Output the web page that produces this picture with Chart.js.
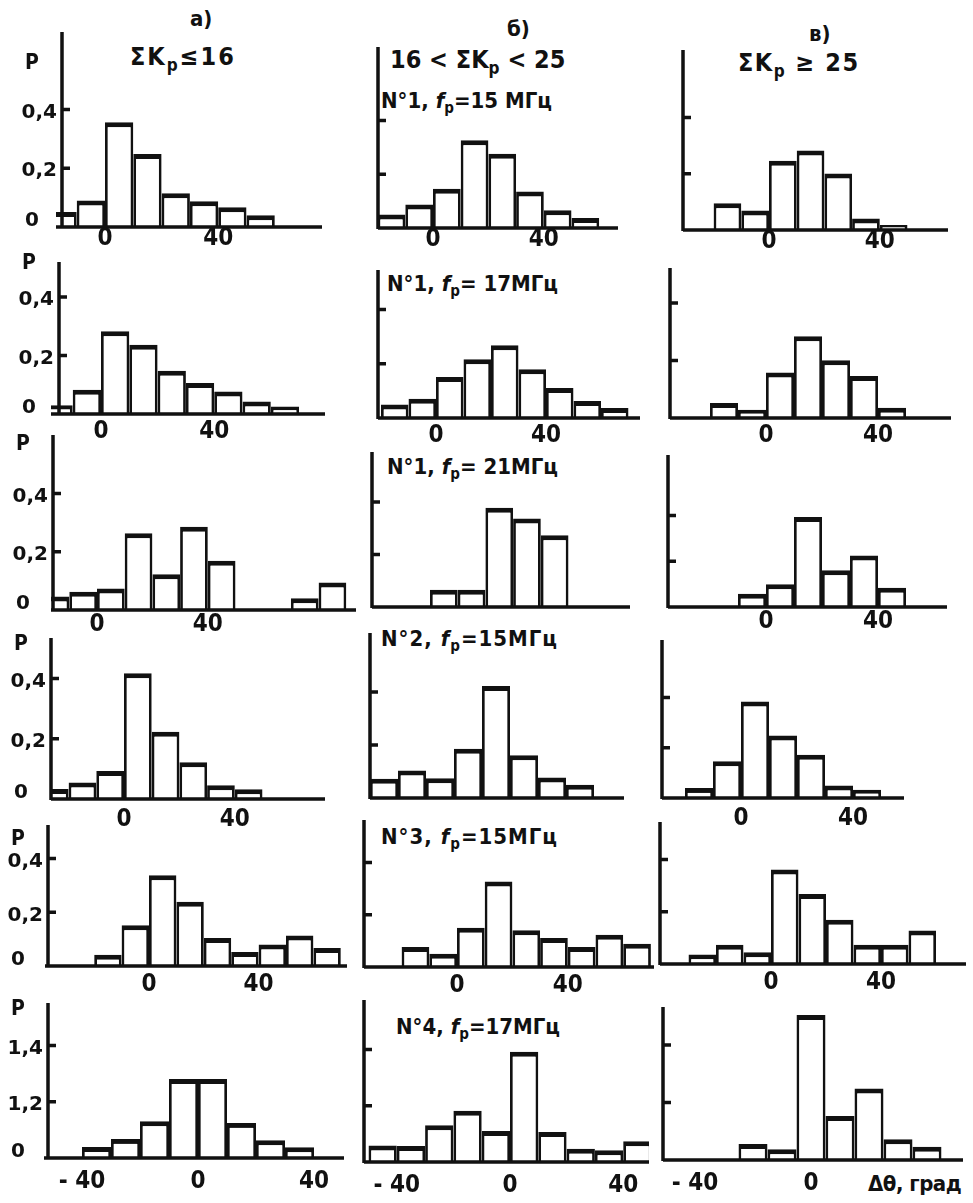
<!DOCTYPE html>
<html>
<head>
<meta charset="utf-8">
<script src="https://cdn.jsdelivr.net/npm/chart.js@4.4.0/dist/chart.umd.min.js"></script>
<style>
  body { margin: 0; background: #fff; width: 973px; height: 1203px; position: relative; overflow: hidden; }
  canvas { position: absolute; }
  .t { position: absolute; font-family: "Liberation Sans Narrow", "DejaVu Sans Condensed", sans-serif;
       font-weight: bold; font-size: 22px; color: #111; white-space: nowrap; line-height: 1; }
  .t sub { font-size: 15px; vertical-align: -5px; }
  .big { font-size: 25px; }
  .big sub { font-size: 17px; vertical-align: -6px; }
</style>
</head>
<body>
<div class="t" style="left:190px;top:8px;">а)</div>
<div class="t" style="left:507px;top:18px;">б)</div>
<div class="t" style="left:809px;top:23px;">в)</div>
<div class="t big" style="left:130px;top:44px;letter-spacing:2px;">ΣK<sub>p</sub>≤16</div>
<div class="t big" style="left:390px;top:47px;">16 &lt; ΣK<sub>p</sub> &lt; 25</div>
<div class="t big" style="left:738px;top:50px;letter-spacing:1.5px;">ΣK<sub>p</sub> ≥ 25</div>
<div class="t" style="left:381px;top:90px;">N°1, <i>f</i><sub>p</sub>=15 МГц</div>
<div class="t" style="left:387px;top:273px;">N°1, <i>f</i><sub>p</sub>= 17МГц</div>
<div class="t" style="left:387px;top:456px;">N°1, <i>f</i><sub>p</sub>= 21МГц</div>
<div class="t" style="left:381px;top:628px;letter-spacing:1px;">N°2, <i>f</i><sub>p</sub>=15МГц</div>
<div class="t" style="left:381px;top:826px;letter-spacing:1px;">N°3, <i>f</i><sub>p</sub>=15МГц</div>
<div class="t" style="left:396px;top:1016px;">N°4, <i>f</i><sub>p</sub>=17МГц</div>
<div class="t" style="left:868px;top:1173px;font-size:22px;letter-spacing:-0.5px;">Δθ, град</div>
<script>
// bin centres (degrees) and probabilities
const binsA1 = [-15, -5, 5, 15, 25, 35, 45, 55];
const probA1 = [0.051, 0.090, 0.356, 0.248, 0.115, 0.088, 0.067, 0.040];
const binsB1 = [-15, -5, 5, 15, 25, 35, 45, 55];
const probB1 = [0.050, 0.087, 0.146, 0.326, 0.276, 0.136, 0.066, 0.037];
const binsC1 = [-15, -5, 5, 15, 25, 35, 45];
const probC1 = [0.095, 0.069, 0.246, 0.282, 0.201, 0.041, 0.018];

const binsA2 = [-15, -5, 5, 15, 25, 35, 45, 55, 65];
const probA2 = [0.030, 0.083, 0.283, 0.237, 0.148, 0.106, 0.077, 0.043, 0.026];
const binsB2 = [-15, -5, 5, 15, 25, 35, 45, 55, 65];
const probB2 = [0.050, 0.071, 0.151, 0.217, 0.268, 0.180, 0.111, 0.063, 0.037];
const binsC2 = [-15, -5, 5, 15, 25, 35, 45];
const probC2 = [0.052, 0.029, 0.158, 0.284, 0.201, 0.146, 0.036];

const binsA3 = [-15, -5, 5, 15, 25, 35, 45, 75, 85];
const probA3 = [0.046, 0.063, 0.074, 0.263, 0.123, 0.286, 0.169, 0.040, 0.094];
const binsB3 = [5, 15, 25, 35, 45];
const probB3 = [0.066, 0.066, 0.378, 0.337, 0.273];
const binsC3 = [-5, 5, 15, 25, 35, 45];
const probC3 = [0.058, 0.099, 0.393, 0.160, 0.225, 0.084];

const binsA4 = [-25, -15, -5, 5, 15, 25, 35, 45];
const probA4 = [0.033, 0.055, 0.093, 0.417, 0.223, 0.122, 0.046, 0.032];
const binsB4 = [-15, -5, 5, 15, 25, 35, 45, 55];
const probB4 = [0.073, 0.104, 0.075, 0.186, 0.423, 0.161, 0.077, 0.050];
const binsC4 = [-15, -5, 5, 15, 25, 35, 45];
const probC4 = [0.040, 0.146, 0.384, 0.249, 0.172, 0.050, 0.033];

const binsA5 = [-15, -5, 5, 15, 25, 35, 45, 55, 65];
const probA5 = [0.042, 0.152, 0.338, 0.239, 0.104, 0.052, 0.080, 0.114, 0.067];
const binsB5 = [-15, -5, 5, 15, 25, 35, 45, 55, 65];
const probB5 = [0.077, 0.051, 0.150, 0.328, 0.141, 0.111, 0.077, 0.124, 0.089];
const binsC5 = [-25, -15, -5, 5, 15, 25, 35, 45, 55];
const probC5 = [0.036, 0.074, 0.045, 0.362, 0.268, 0.170, 0.074, 0.074, 0.128];

const binsA6 = [-35, -25, -15, -5, 5, 15, 25, 35];
const probA6 = [0.039, 0.068, 0.131, 0.281, 0.281, 0.125, 0.063, 0.038];
const binsB6 = [-45, -35, -25, -15, -5, 5, 15, 25, 35, 45];
const probB6 = [0.059, 0.057, 0.131, 0.182, 0.110, 0.392, 0.107, 0.047, 0.042, 0.074];
const binsC6 = [-20, -10, 0, 10, 20, 30, 40];
const probC6 = [0.056, 0.037, 0.504, 0.153, 0.249, 0.072, 0.046];

// y ticks and their labels (only the left column is labelled)
const yTicks = [0.2, 0.4];
const yTickText = [['0,2', '0,4'], ['0,2', '0,4'], ['0,2', '0,4'], ['0,2', '0,4'], ['0,2', '0,4'], ['1,2', '1,4']];
const xTicksStd = [0, 40];
const xTicksLow = [-40, 0, 40];

// page geometry of each little panel (pixels)
const panels = [
  { bins: binsA1, probs: probA1, row: 0, col: 0, left: 56,  right: 322, top: 32,   base: 227,  x0: 105, axisX: 62,  px10: 28.3, px02: 58.8, xt: xTicksStd },
  { bins: binsB1, probs: probB1, row: 0, col: 1, left: 378, right: 618, top: 47,   base: 228,  x0: 433, axisX: 378, px10: 27.7, px02: 53.8, xt: xTicksStd },
  { bins: binsC1, probs: probC1, row: 0, col: 2, left: 683, right: 948, top: 50,   base: 230,  x0: 769, axisX: 683, px10: 27.7, px02: 56.3, xt: xTicksStd },
  { bins: binsA2, probs: probA2, row: 1, col: 0, left: 51,  right: 325, top: 262,  base: 414,  x0: 101, axisX: 59,  px10: 28.3, px02: 58.5, xt: xTicksStd },
  { bins: binsB2, probs: probB2, row: 1, col: 1, left: 378, right: 640, top: 270,  base: 418,  x0: 436, axisX: 378, px10: 27.5, px02: 54.2, xt: xTicksStd },
  { bins: binsC2, probs: probC2, row: 1, col: 2, left: 670, right: 951, top: 268,  base: 418,  x0: 766, axisX: 670, px10: 28,   px02: 57.5, xt: xTicksStd },
  { bins: binsA3, probs: probA3, row: 2, col: 0, left: 51,  right: 356, top: 435,  base: 610,  x0: 97,  axisX: 53,  px10: 27.7, px02: 58.3, xt: xTicksStd },
  { bins: binsB3, probs: probB3, row: 2, col: 1, left: 372, right: 630, top: 452,  base: 607,  x0: 430, axisX: 372, px10: 27.7, px02: 52.5, xt: [] },
  { bins: binsC3, probs: probC3, row: 2, col: 2, left: 668, right: 947, top: 455,  base: 607,  x0: 766, axisX: 668, px10: 28,   px02: 45.8, xt: xTicksStd },
  { bins: binsA4, probs: probA4, row: 3, col: 0, left: 51,  right: 325, top: 638,  base: 799,  x0: 124, axisX: 51,  px10: 27.7, px02: 60.3, xt: xTicksStd },
  { bins: binsB4, probs: probB4, row: 3, col: 1, left: 370, right: 624, top: 633,  base: 798,  x0: 426, axisX: 370, px10: 28,   px02: 53,   xt: [] },
  { bins: binsC4, probs: probC4, row: 3, col: 2, left: 662, right: 904, top: 640,  base: 798,  x0: 741, axisX: 662, px10: 28,   px02: 50.3, xt: xTicksStd },
  { bins: binsA5, probs: probA5, row: 4, col: 0, left: 45,  right: 347, top: 825,  base: 966,  x0: 149, axisX: 48,  px10: 27.4, px02: 53.7, xt: xTicksStd },
  { bins: binsB5, probs: probB5, row: 4, col: 1, left: 364, right: 654, top: 820,  base: 967,  x0: 457, axisX: 364, px10: 27.7, px02: 52.2, xt: xTicksStd },
  { bins: binsC5, probs: probC5, row: 4, col: 2, left: 660, right: 966, top: 822,  base: 964,  x0: 771, axisX: 660, px10: 27.5, px02: 52.2, xt: xTicksStd },
  { bins: binsA6, probs: probA6, row: 5, col: 0, left: 44,  right: 344, top: 1003, base: 1158, x0: 198, axisX: 48,  px10: 29,   px02: 56.2, xt: xTicksLow },
  { bins: binsB6, probs: probB6, row: 5, col: 1, left: 364, right: 649, top: 1000, base: 1162, x0: 510, axisX: 364, px10: 28.3, px02: 56.2, xt: xTicksLow },
  { bins: binsC6, probs: probC6, row: 5, col: 2, left: 663, right: 963, top: 1007, base: 1160, x0: 811, axisX: 663, px10: 29,   px02: 57.5, xt: [-40, 0] }
];
const xLabelDrop = [12, 18, 15, 21, 19, 24];
const pLabelDrop = [32, 2, 10, 7, 15, 7];

const INK = '#111';
const NARROW = '"Liberation Sans Narrow", "DejaVu Sans Condensed", sans-serif';

// axes are drawn by hand, like the original sketch
const handAxes = {
  id: 'handAxes',
  afterDatasetsDraw(chart, args, o) {
    const { ctx, chartArea: ca, scales: { x, y } } = chart;
    const ax = x.getPixelForValue(o.axisAt);
    const b = y.getPixelForValue(0);
    ctx.save();
    ctx.strokeStyle = INK;
    ctx.fillStyle = INK;
    ctx.lineWidth = 3.5;
    ctx.beginPath();
    ctx.moveTo(ca.left, b);
    ctx.lineTo(ca.right, b);
    ctx.moveTo(ax, b + 1);
    ctx.lineTo(ax, ca.top);
    for (const t of yTicks) {
      const py = y.getPixelForValue(t);
      ctx.moveTo(ax, py);
      ctx.lineTo(ax + 8, py);
    }
    ctx.stroke();

    ctx.textBaseline = 'middle';
    if (o.col === 0) {
      ctx.font = 'bold 20px "DejaVu Sans", sans-serif';
      ctx.textAlign = 'right';
      yTicks.forEach((t, i) => ctx.fillText(yTickText[o.row][i], ax - 5, y.getPixelForValue(t) + 3));
      ctx.textAlign = 'center';
      ctx.fillText('0', ax - 30, b - 6);
      ctx.font = 'bold 21px ' + NARROW;
      ctx.fillText('P', ax - 30, ca.top + pLabelDrop[o.row]);
    }
    ctx.font = 'bold 24px ' + NARROW;
    ctx.textAlign = 'center';
    for (const v of o.xt) {
      const txt = v < 0 ? '- ' + Math.abs(v) : String(v);
      ctx.fillText(txt, x.getPixelForValue(v), b + xLabelDrop[o.row]);
    }
    ctx.restore();
  }
};

const padL = 64, padR = 20, padT = 12, padB = 44;

panels.forEach(p => {
  const cv = document.createElement('canvas');
  cv.width = Math.round(p.right - p.left) + padL + padR;
  cv.height = Math.round(p.base - p.top) + padT + padB;
  cv.style.left = (p.left - padL) + 'px';
  cv.style.top = (p.top - padT) + 'px';
  document.body.appendChild(cv);

  new Chart(cv, {
    type: 'bar',
    data: {
      datasets: [{
        data: p.bins.map((b, i) => ({ x: b, y: p.probs[i] })),
        backgroundColor: '#fff',
        borderColor: INK,
        borderWidth: { top: 5, left: 2.8, right: 2.8, bottom: 0 },
        borderSkipped: 'start',
        barPercentage: 1,
        categoryPercentage: 1,
        inflateAmount: 0
      }]
    },
    options: {
      responsive: false,
      animation: false,
      events: [],
      layout: { padding: { left: padL, right: padR, top: padT, bottom: padB } },
      plugins: {
        legend: { display: false },
        tooltip: { enabled: false },
        handAxes: { axisAt: (p.axisX - p.x0) / p.px10 * 10, col: p.col, row: p.row, xt: p.xt }
      },
      scales: {
        x: {
          type: 'linear',
          display: false,
          offset: false,
          min: (p.left - p.x0) / p.px10 * 10,
          max: (p.right - p.x0) / p.px10 * 10,
          ticks: { stepSize: 10, includeBounds: false }
        },
        y: {
          display: false,
          min: 0,
          max: (p.base - p.top) / p.px02 * 0.2
        }
      }
    },
    plugins: [handAxes]
  });
});
</script>
</body>
</html>
